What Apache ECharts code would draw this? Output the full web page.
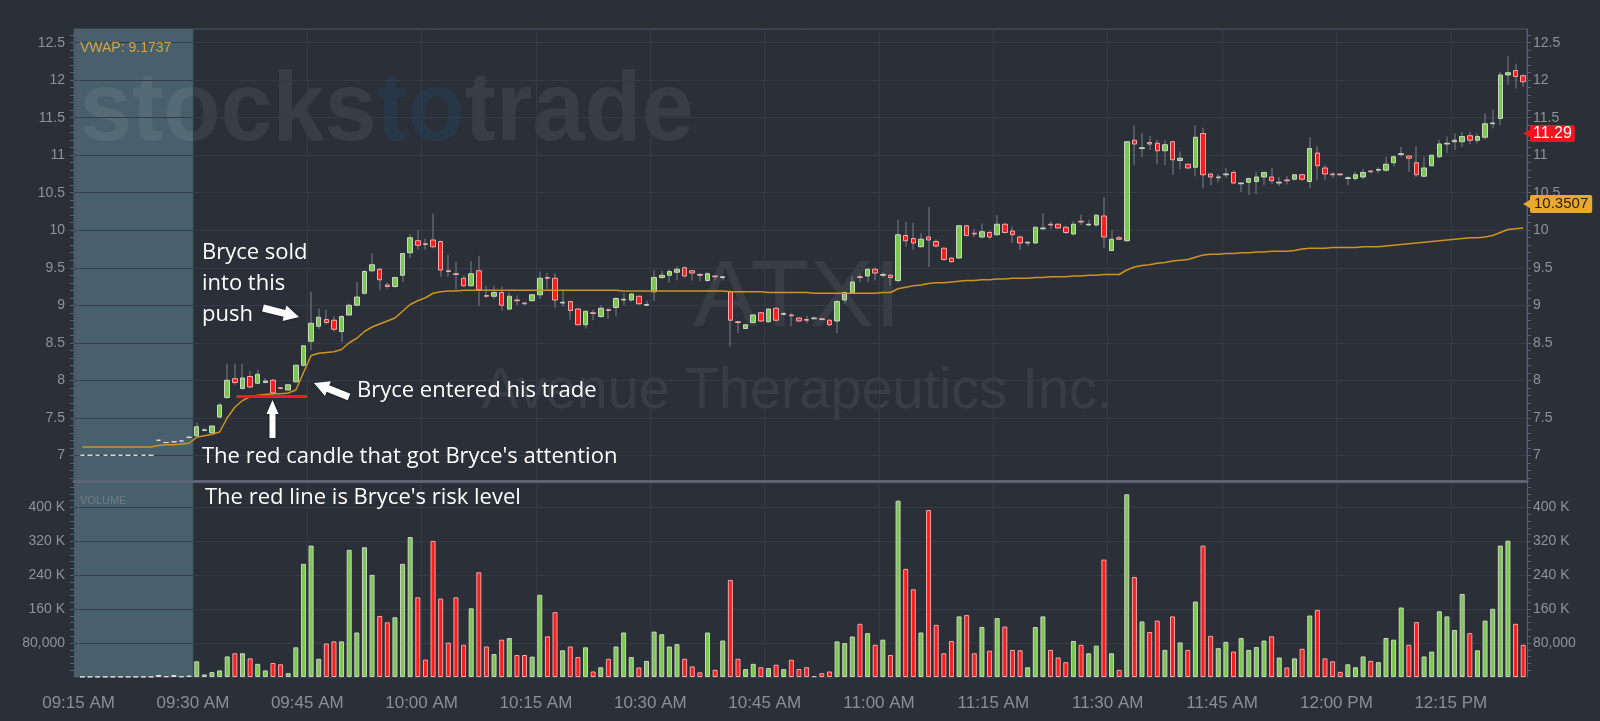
<!DOCTYPE html>
<html>
<head>
<meta charset="utf-8">
<title>ATXI - Avenue Therapeutics Inc.</title>
<script src="https://cdn.jsdelivr.net/npm/echarts@6/dist/echarts.min.js"></script>
<style>
  html, body { margin: 0; padding: 0; background: #2a2f38; }
  #chart { width: 1600px; height: 721px; }
</style>
</head>
<body>
<div id="chart"></div>
<script>
// one candle per minute, index 0 = 09:15
const opens = [
  7.00, 7.00, 7.00, 7.00, 7.00, 7.00, 7.00, 7.00, 7.00, 7.00,
  7.20, 7.17, 7.18, 7.19, 7.24, 7.26, 7.33, 7.30, 7.51, 7.77,
  8.02, 7.89, 8.05, 7.96, 7.97, 8.00, 7.90, 7.87, 7.98, 8.20,
  8.52, 8.72, 8.81, 8.80, 8.65, 8.87, 9.00, 9.16, 9.46, 9.48,
  9.27, 9.25, 9.40, 9.70, 9.86, 9.82, 9.87, 9.85, 9.46, 9.42,
  9.36, 9.26, 9.46, 9.13, 9.12, 9.17, 8.95, 9.07, 9.03, 9.06,
  9.14, 9.37, 9.36, 9.03, 9.05, 8.95, 8.74, 8.90, 8.85, 8.94,
  8.97, 9.07, 9.07, 9.12, 9.00, 9.18, 9.37, 9.40, 9.44, 9.50,
  9.46, 9.41, 9.33, 9.39, 9.37, 9.18, 8.78, 8.69, 8.77, 8.90,
  8.78, 8.96, 8.88, 8.87, 8.83, 8.81, 8.82, 8.82, 8.80, 8.79,
  9.07, 9.17, 9.38, 9.39, 9.48, 9.40, 9.40, 9.33, 9.93, 9.89,
  9.78, 9.91, 9.85, 9.76, 9.63, 9.63, 10.06, 9.96, 9.91, 9.97,
  9.94, 10.08, 9.99, 9.91, 9.83, 9.83, 10.02, 10.08, 10.08, 10.04,
  9.95, 10.12, 10.07, 10.07, 10.19, 9.73, 9.90, 9.86, 11.20, 11.09,
  11.17, 11.16, 11.06, 11.18, 10.93, 10.88, 10.84, 11.29, 10.75, 10.70,
  10.74, 10.77, 10.62, 10.64, 10.65, 10.71, 10.71, 10.63, 10.67, 10.68,
  10.74, 10.65, 11.03, 10.83, 10.75, 10.75, 10.69, 10.69, 10.71, 10.79,
  10.80, 10.80, 10.90, 11.01, 10.99, 10.90, 10.72, 10.86, 10.98, 11.15,
  11.18, 11.18, 11.26, 11.20, 11.24, 11.42, 11.49, 12.07, 12.13, 12.06
];
const closes = [
  7.00, 7.00, 7.00, 7.00, 7.00, 7.00, 7.00, 7.00, 7.00, 7.00,
  7.20, 7.17, 7.18, 7.19, 7.24, 7.38, 7.34, 7.39, 7.67, 8.00,
  7.97, 8.03, 7.91, 8.08, 7.99, 7.83, 7.89, 7.94, 8.20, 8.46,
  8.76, 8.84, 8.77, 8.68, 8.85, 9.00, 9.11, 9.45, 9.54, 9.34,
  9.25, 9.37, 9.69, 9.90, 9.80, 9.81, 9.78, 9.47, 9.45, 9.41,
  9.26, 9.42, 9.21, 9.12, 9.17, 9.00, 9.12, 9.06, 9.02, 9.14,
  9.36, 9.36, 9.07, 9.04, 8.93, 8.74, 8.92, 8.89, 8.96, 8.93,
  9.09, 9.08, 9.15, 9.02, 9.01, 9.37, 9.40, 9.45, 9.48, 9.39,
  9.43, 9.40, 9.42, 9.38, 9.38, 8.80, 8.77, 8.74, 8.87, 8.79,
  8.95, 8.80, 8.89, 8.86, 8.79, 8.80, 8.83, 8.81, 8.74, 9.05,
  9.17, 9.31, 9.37, 9.48, 9.43, 9.41, 9.37, 9.94, 9.86, 9.83,
  9.88, 9.87, 9.79, 9.61, 9.58, 10.06, 9.93, 9.95, 9.98, 9.91,
  10.08, 9.97, 9.94, 9.83, 9.84, 10.04, 10.03, 10.07, 10.03, 9.97,
  10.08, 10.11, 10.08, 10.20, 9.91, 9.88, 9.88, 11.18, 11.15, 11.10,
  11.15, 11.06, 11.14, 10.94, 10.96, 10.83, 11.24, 10.74, 10.71, 10.71,
  10.75, 10.63, 10.63, 10.69, 10.71, 10.77, 10.66, 10.64, 10.66, 10.74,
  10.68, 11.09, 10.86, 10.75, 10.74, 10.74, 10.70, 10.74, 10.77, 10.78,
  10.81, 10.88, 10.98, 11.02, 10.96, 10.74, 10.83, 11.00, 11.15, 11.16,
  11.20, 11.25, 11.20, 11.25, 11.42, 11.43, 12.07, 12.10, 12.05, 11.98
];
const lows = [
  7.00, 7.00, 7.00, 7.00, 7.00, 7.00, 7.00, 7.00, 7.00, 7.00,
  7.19, 7.16, 7.17, 7.18, 7.22, 7.24, 7.32, 7.29, 7.49, 7.75,
  7.94, 7.88, 7.90, 7.95, 7.96, 7.80, 7.88, 7.86, 7.96, 8.18,
  8.40, 8.68, 8.74, 8.65, 8.51, 8.86, 8.99, 9.14, 9.44, 9.20,
  9.22, 9.23, 9.31, 9.63, 9.74, 9.74, 9.76, 9.38, 9.38, 9.21,
  9.24, 9.25, 8.99, 9.10, 9.08, 8.93, 8.93, 9.00, 9.00, 9.05,
  9.08, 9.22, 8.96, 8.98, 8.81, 8.73, 8.69, 8.80, 8.83, 8.82,
  8.85, 9.00, 9.05, 9.01, 8.99, 9.06, 9.35, 9.30, 9.33, 9.37,
  9.33, 9.32, 9.31, 9.33, 9.33, 8.45, 8.63, 8.68, 8.76, 8.78,
  8.77, 8.78, 8.86, 8.72, 8.78, 8.76, 8.81, 8.80, 8.72, 8.63,
  9.02, 9.15, 9.31, 9.31, 9.33, 9.37, 9.26, 9.30, 9.78, 9.74,
  9.77, 9.51, 9.77, 9.59, 9.57, 9.62, 9.92, 9.91, 9.89, 9.88,
  9.93, 9.96, 9.83, 9.74, 9.79, 9.82, 10.00, 10.02, 10.02, 9.95,
  9.93, 10.07, 10.06, 10.05, 9.76, 9.72, 9.87, 9.85, 10.87, 10.98,
  11.07, 10.88, 10.87, 10.74, 10.81, 10.82, 10.72, 10.56, 10.60, 10.64,
  10.70, 10.62, 10.51, 10.47, 10.48, 10.60, 10.62, 10.59, 10.61, 10.66,
  10.66, 10.56, 10.67, 10.67, 10.70, 10.72, 10.60, 10.66, 10.68, 10.76,
  10.76, 10.78, 10.85, 10.98, 10.78, 10.71, 10.71, 10.85, 10.96, 11.03,
  11.07, 11.11, 11.15, 11.16, 11.21, 11.36, 11.40, 11.94, 11.89, 11.91
];
const highs = [
  7.00, 7.00, 7.00, 7.00, 7.00, 7.00, 7.00, 7.00, 7.00, 7.00,
  7.21, 7.18, 7.19, 7.20, 7.26, 7.44, 7.36, 7.40, 7.70, 8.22,
  8.22, 8.22, 8.12, 8.14, 8.03, 8.02, 7.91, 7.95, 8.21, 8.47,
  9.18, 8.96, 8.94, 8.85, 8.87, 9.02, 9.31, 9.47, 9.69, 9.50,
  9.30, 9.38, 9.70, 9.95, 10.00, 9.89, 10.22, 9.86, 9.67, 9.58,
  9.40, 9.59, 9.66, 9.26, 9.26, 9.25, 9.17, 9.13, 9.04, 9.15,
  9.45, 9.43, 9.43, 9.20, 9.06, 8.96, 8.93, 8.94, 9.00, 8.96,
  9.11, 9.16, 9.16, 9.13, 9.06, 9.47, 9.46, 9.48, 9.52, 9.52,
  9.47, 9.43, 9.44, 9.40, 9.39, 9.20, 8.79, 8.75, 8.88, 8.91,
  8.96, 8.97, 8.91, 8.90, 8.84, 8.86, 8.85, 8.83, 8.82, 9.07,
  9.18, 9.39, 9.42, 9.50, 9.50, 9.44, 9.41, 10.14, 10.11, 10.10,
  9.96, 10.31, 9.88, 9.77, 9.64, 10.07, 10.07, 10.02, 10.09, 10.00,
  10.20, 10.10, 10.05, 9.93, 9.85, 10.05, 10.23, 10.12, 10.09, 10.06,
  10.12, 10.21, 10.14, 10.22, 10.44, 10.00, 9.93, 11.19, 11.40, 11.30,
  11.26, 11.21, 11.20, 11.19, 11.05, 10.89, 11.40, 11.37, 10.76, 10.75,
  10.83, 10.80, 10.64, 10.70, 10.78, 10.78, 10.83, 10.71, 10.72, 10.74,
  10.75, 11.24, 11.12, 10.87, 10.77, 10.76, 10.72, 10.78, 10.82, 10.80,
  10.84, 10.98, 11.00, 11.11, 11.00, 11.12, 10.98, 11.01, 11.21, 11.25,
  11.29, 11.31, 11.31, 11.29, 11.56, 11.61, 12.11, 12.32, 12.22, 12.08
];
const volumes = [
  600, 600, 600, 600, 600, 600, 600, 600, 600, 600,
  5000, 1500, 4500, 1500, 3500, 37000, 6000, 11500, 15500, 48500,
  56000, 56000, 44000, 31000, 15500, 33000, 30000, 9000, 70000, 267000,
  310000, 43000, 79000, 84000, 84000, 300000, 105000, 306000, 241000, 144000,
  129000, 141000, 267000, 330000, 188000, 41000, 321000, 185000, 81000, 188000,
  76000, 162000, 247000, 72000, 54000, 88000, 92000, 52000, 52000, 48000,
  194000, 96000, 153000, 63000, 72000, 47000, 70000, 13000, 23000, 43000,
  72000, 105000, 47000, 22500, 38000, 107000, 101000, 72000, 77500, 43000,
  25000, 11000, 105000, 17000, 86000, 229000, 43000, 18600, 31000, 23000,
  21000, 29000, 18600, 40600, 18600, 23000, 2000, 9000, 13000, 84000,
  80000, 95600, 125500, 103500, 76000, 88000, 52000, 416000, 255000, 207000,
  105000, 394000, 123000, 56000, 85000, 143000, 146000, 56000, 118000, 62000,
  139000, 119000, 64000, 63000, 23000, 118000, 143000, 64000, 46000, 35000,
  85000, 76000, 56000, 74000, 277000, 56000, 17000, 431000, 236000, 131000,
  106000, 133000, 64000, 143000, 81500, 64000, 178000, 310000, 97000, 68000,
  83000, 60000, 92000, 64000, 70500, 86000, 96000, 46000, 22500, 44000,
  66500, 145000, 158500, 44000, 37000, 12000, 30000, 23000, 48500, 38000,
  35000, 92000, 88000, 164000, 76000, 129500, 48500, 60000, 155000, 143000,
  111000, 196000, 103500, 63000, 133000, 161000, 310000, 321500, 125500, 76000
];
const vwap = [
  7.11, 7.11, 7.11, 7.11, 7.11, 7.11, 7.11, 7.11, 7.11, 7.11,
  7.13, 7.14, 7.14, 7.15, 7.16, 7.24, 7.26, 7.28, 7.31, 7.50,
  7.64, 7.73, 7.78, 7.80, 7.81, 7.82, 7.82, 7.83, 7.87, 8.10,
  8.33, 8.36, 8.37, 8.38, 8.41, 8.50, 8.56, 8.65, 8.71, 8.75,
  8.79, 8.83, 8.92, 9.01, 9.06, 9.10, 9.16, 9.18, 9.19, 9.19,
  9.20, 9.20, 9.20, 9.20, 9.20, 9.20, 9.20, 9.20, 9.20, 9.20,
  9.20, 9.20, 9.20, 9.20, 9.20, 9.20, 9.20, 9.20, 9.20, 9.20,
  9.20, 9.19, 9.19, 9.19, 9.19, 9.19, 9.19, 9.19, 9.19, 9.19,
  9.19, 9.19, 9.19, 9.19, 9.19, 9.18, 9.18, 9.18, 9.18, 9.18,
  9.17, 9.17, 9.17, 9.17, 9.17, 9.17, 9.16, 9.16, 9.16, 9.16,
  9.16, 9.16, 9.16, 9.16, 9.16, 9.17, 9.17, 9.22, 9.24, 9.26,
  9.27, 9.29, 9.30, 9.30, 9.31, 9.32, 9.33, 9.33, 9.34, 9.34,
  9.35, 9.35, 9.36, 9.36, 9.36, 9.37, 9.37, 9.38, 9.38, 9.38,
  9.39, 9.39, 9.40, 9.40, 9.41, 9.41, 9.41, 9.47, 9.51, 9.53,
  9.54, 9.56, 9.57, 9.59, 9.60, 9.61, 9.64, 9.67, 9.68, 9.68,
  9.69, 9.69, 9.70, 9.70, 9.71, 9.71, 9.72, 9.72, 9.72, 9.73,
  9.75, 9.76, 9.76, 9.76, 9.77, 9.77, 9.77, 9.77, 9.78, 9.78,
  9.78, 9.79, 9.80, 9.81, 9.82, 9.83, 9.84, 9.85, 9.86, 9.87,
  9.88, 9.89, 9.90, 9.90, 9.91, 9.93, 9.97, 10.01, 10.02, 10.03
];

// axis ticks (minutes after 09:15) and their labels
const timeTicks = [0, 15, 30, 45, 60, 75, 90, 105, 120, 135, 150, 165, 180];
const timeLabels = ['09:15 AM', '09:30 AM', '09:45 AM', '10:00 AM', '10:15 AM', '10:30 AM',
  '10:45 AM', '11:00 AM', '11:15 AM', '11:30 AM', '11:45 AM', '12:00 PM', '12:15 PM'];
const priceTicks = [7, 7.5, 8, 8.5, 9, 9.5, 10, 10.5, 11, 11.5, 12, 12.5];
const volumeTicks = [80000, 160000, 240000, 320000, 400000];

const lastPrice = 11.29;
const vwapTag = 10.3507;
const riskLevel = 7.79;
const riskFrom = 20.7, riskTo = 29.95;   // minutes, the drawn risk line

const priceMin = 6.657, priceMax = 12.683;
const volMax = 460000;
const xMin = -0.6, xMax = 190;

const minorPrice = [];
for (let p = 6.7; p < 12.65; p += 0.1) minorPrice.push(Math.round(p * 10) / 10);
const minorVol = [];
for (let v = 16000; v < volMax; v += 16000) minorVol.push(v);

const UP = '#7cc84e', DOWN = '#ff1c1c';
const UP_EDGE = '#c9d6c0', DOWN_EDGE = '#f0a9a9', FLAT = '#e4dada';
const WICK = '#7a808a';
const labelFont = '"Liberation Sans", Arial, sans-serif';
const markFont = '"Liberation Sans", Arial, sans-serif';
const noteFont = '"Open Sans", "Noto Sans", sans-serif';

const idx = opens.map((_, i) => i);
const wickData = idx.map(i => [i + 0.5, lows[i], highs[i], lows[i], highs[i]]);
const bodyData = idx.map(i => [i + 0.5, opens[i], closes[i],
  Math.min(opens[i], closes[i]), Math.max(opens[i], closes[i])]);
const volData = idx.map(i => {
  const up = closes[i] > opens[i], down = closes[i] < opens[i];
  return {
    value: [i + 0.5, volumes[i]],
    itemStyle: {
      color: up ? UP : down ? DOWN : FLAT,
      borderColor: up ? UP_EDGE : down ? DOWN_EDGE : FLAT
    }
  };
});
const vwapData = idx.map(i => [i + 0.5, vwap[i]]);

const chart = echarts.init(document.getElementById('chart'));

function tickAxis(grid, pos, min, max, values) {
  return {
    type: 'value', gridIndex: grid, position: pos, min: min, max: max,
    axisLine: { show: false },
    axisTick: { show: true, customValues: values, length: 4, lineStyle: { color: '#59606d' } },
    axisLabel: { show: false, customValues: values },
    splitLine: { show: false }
  };
}

function labelAxis(grid, pos, min, max, values, fmt, split) {
  return {
    type: 'value', gridIndex: grid, position: pos, min: min, max: max,
    axisLine: { show: true, lineStyle: { color: '#59606d' } },
    axisTick: { show: false, customValues: values },
    axisLabel: {
      customValues: values, formatter: fmt, color: '#8e939b', fontSize: 14,
      fontFamily: labelFont, margin: pos === 'left' ? 9 : 6
    },
    splitLine: { show: split, lineStyle: { color: '#363c47' } }
  };
}

const volFmt = v => v < 100000 ? v.toLocaleString('en-US') : (v / 1000) + ' K';
const hidden = 'rgba(0,0,0,0)';

chart.setOption({
  animation: false,
  backgroundColor: '#2a2f38',
  grid: [
    { left: 74, right: 73, top: 29, height: 452, show: true, borderColor: '#505869', borderWidth: 1, backgroundColor: 'transparent' },
    { left: 74, right: 73, top: 482, height: 195 }
  ],
  xAxis: [
    {
      type: 'value', gridIndex: 0, min: xMin, max: xMax,
      axisLine: { show: true, onZero: false, lineStyle: { color: '#5b6375', width: 3 } },
      axisTick: { show: false, customValues: timeTicks },
      axisLabel: { show: false, customValues: timeTicks },
      splitLine: { show: true, lineStyle: { color: '#363c47' } }
    },
    {
      type: 'value', gridIndex: 1, min: xMin, max: xMax,
      axisLine: { show: true, onZero: false, lineStyle: { color: '#3a404b' } },
      axisTick: { show: false, customValues: timeTicks },
      axisLabel: {
        customValues: timeTicks,
        formatter: v => timeLabels[timeTicks.indexOf(v)],
        color: '#8a8f98', fontSize: 17, fontFamily: labelFont, margin: 18
      },
      splitLine: { show: true, lineStyle: { color: '#363c47' } }
    }
  ],
  yAxis: [
    labelAxis(0, 'left', priceMin, priceMax, priceTicks, null, true),
    labelAxis(0, 'right', priceMin, priceMax, priceTicks, null, false),
    tickAxis(0, 'left', priceMin, priceMax, minorPrice),
    tickAxis(0, 'right', priceMin, priceMax, minorPrice),
    labelAxis(1, 'left', 0, volMax, volumeTicks, volFmt, true),
    labelAxis(1, 'right', 0, volMax, volumeTicks, volFmt, false),
    tickAxis(1, 'left', 0, volMax, minorVol),
    tickAxis(1, 'right', 0, volMax, minorVol)
  ],
  series: [
    {
      name: 'VWAP', type: 'line', xAxisIndex: 0, yAxisIndex: 0,
      data: vwapData, symbol: 'none',
      lineStyle: { color: '#cf941f', width: 1.5 },
      markLine: {
        silent: true, symbol: 'none',
        lineStyle: { color: hidden, width: 0, type: 'solid' },
        label: {
          show: true, position: 'end', distance: 3, formatter: String(vwapTag),
          backgroundColor: '#eaa92a', color: '#2a2110', fontSize: 15, fontFamily: markFont,
          padding: [2, 4, 1, 4], borderRadius: 2
        },
        data: [{ yAxis: vwapTag }]
      },
      markPoint: {
        silent: true,
        data: [{ coord: [xMax, vwapTag], symbol: 'triangle', symbolSize: [9, 8], symbolRotate: 90,
          itemStyle: { color: '#eaa92a' }, label: { show: false } }]
      }
    },
    {
      name: 'wick', type: 'candlestick', xAxisIndex: 0, yAxisIndex: 0,
      data: wickData, barWidth: 1.5,
      itemStyle: { color: WICK, color0: WICK, borderColor: WICK, borderColor0: WICK, borderColorDoji: WICK, borderWidth: 0 }
    },
    {
      name: 'ATXI', type: 'candlestick', xAxisIndex: 0, yAxisIndex: 0,
      data: bodyData, barWidth: 5,
      itemStyle: { color: UP, color0: DOWN, borderColor: UP_EDGE, borderColor0: DOWN_EDGE, borderColorDoji: FLAT, borderWidth: 1 },
      markLine: {
        silent: true, symbol: 'none',
        data: [
          [{ coord: [riskFrom, riskLevel], lineStyle: { color: '#ee1c25', width: 3, type: 'solid' }, label: { show: false } },
           { coord: [riskTo, riskLevel] }],
          { yAxis: lastPrice, lineStyle: { color: hidden, width: 0, type: 'solid' },
            label: {
              show: true, position: 'end', distance: 3, formatter: String(lastPrice),
              backgroundColor: '#f0141e', color: '#ffffff', fontSize: 16, fontFamily: markFont,
              padding: [1, 3, 0, 3], borderRadius: 2
            } }
        ]
      },
      markPoint: {
        silent: true,
        data: [{ coord: [xMax, lastPrice], symbol: 'triangle', symbolSize: [9, 8], symbolRotate: 90,
          itemStyle: { color: '#f0141e' }, label: { show: false } }]
      }
    },
    {
      name: 'Volume', type: 'bar', xAxisIndex: 1, yAxisIndex: 4,
      data: volData, barWidth: 5,
      itemStyle: { borderWidth: 1 }
    }
  ]
});

// annotation layer: pre-market shading, watermarks, notes and arrows
function arrow(x1, y1, x2, y2, hl, hw, sw) {
  const len = Math.hypot(x2 - x1, y2 - y1);
  const ux = (x2 - x1) / len, uy = (y2 - y1) / len;
  const px = -uy, py = ux;
  const bx = x2 - ux * hl, by = y2 - uy * hl;
  return {
    type: 'polygon', z: 20, silent: true,
    shape: { points: [
      [x1 + px * sw, y1 + py * sw], [bx + px * sw, by + py * sw], [bx + px * hw, by + py * hw],
      [x2, y2],
      [bx - px * hw, by - py * hw], [bx - px * sw, by - py * sw], [x1 - px * sw, y1 - py * sw]
    ] },
    style: { fill: '#ffffff', shadowBlur: 3, shadowColor: 'rgba(0,0,0,0.45)' }
  };
}
function note(text, x, y, size) {
  return {
    type: 'text', z: 20, silent: true,
    style: { text: text, x: x, y: y, fill: '#ffffff', fontSize: size || 22, fontFamily: noteFont,
      align: 'left', verticalAlign: 'middle' }
  };
}
// watermark text, squeezed horizontally around its anchor
function watermark(text, x, y, size, sx, align) {
  return {
    type: 'text', z: -5, silent: true, x: x, y: y, scaleX: sx,
    style: { text: text, x: 0, y: 0, align: align, verticalAlign: 'middle',
      fill: 'rgba(255,255,255,0.07)', fontSize: size, fontFamily: markFont }
  };
}

const gridLeft = chart.convertToPixel({ xAxisIndex: 0 }, xMin);
const openX = chart.convertToPixel({ xAxisIndex: 0 }, 15);
const topY = chart.convertToPixel({ yAxisIndex: 0 }, priceMax);
const baseY = chart.convertToPixel({ yAxisIndex: 4 }, 0);

const brand = watermark('{a|stocks}{b|to}{a|trade}', 80, 113, 98, 0.955, 'left');
brand.style.rich = {
  a: { fill: 'rgba(255,255,255,0.075)', fontSize: 98, fontWeight: 'bold', fontFamily: markFont },
  b: { fill: 'rgba(30,100,170,0.15)', fontSize: 98, fontWeight: 'bold', fontFamily: markFont }
};

chart.setOption({
  graphic: [
    { type: 'rect', z: -10, silent: true,
      shape: { x: gridLeft, y: topY, width: openX - gridLeft, height: baseY - topY },
      style: { fill: '#47606b' } },
    brand,
    watermark('ATXI', 797, 300, 95, 1.02, 'center'),
    watermark('Avenue Therapeutics Inc.', 797, 392, 58, 0.96, 'center'),
    { type: 'text', z: 20, silent: true,
      style: { text: 'VWAP: 9.1737', x: 80, y: 48, fill: '#dca23a', fontSize: 14, fontFamily: labelFont,
        align: 'left', verticalAlign: 'middle' } },
    { type: 'text', z: 20, silent: true,
      style: { text: 'VOLUME', x: 80, y: 501, fill: '#6f7d88', fontSize: 11, fontFamily: labelFont,
        align: 'left', verticalAlign: 'middle' } },
    note('Bryce sold', 202, 253),
    note('into this', 202, 284),
    note('push', 202, 315),
    note('Bryce entered his trade', 357, 391),
    note("The red candle that got Bryce's attention", 202, 456.5),
    note("The red line is Bryce's risk level", 205, 497.5),
    arrow(263, 308, 299, 317, 15, 8, 3.5),
    arrow(349, 397, 314, 383, 15, 8, 3.5),
    arrow(272.5, 438, 272.5, 400, 14, 6, 3)
  ]
});
</script>
</body>
</html>
